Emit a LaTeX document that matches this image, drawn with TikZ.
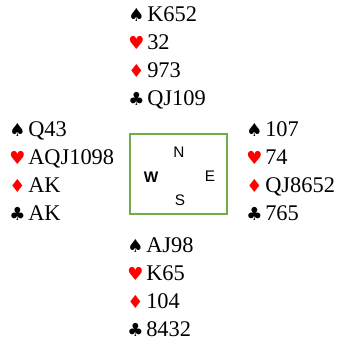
\documentclass[tikz,border=0pt]{standalone}
\usepackage{fontspec}
\setmainfont{Liberation Serif}
\newfontfamily\suitfont{DejaVu Sans}
\newfontfamily\dirfont{Liberation Sans}
\usetikzlibrary{positioning}
\definecolor{suitred}{HTML}{FF0000}
\definecolor{tableline}{HTML}{70AD47}
\newcommand{\suit}[2]{\makebox[14.25pt][l]{\color{#1}\suitfont\fontsize{13.5}{13.5}\selectfont#2}}
\newcommand{\Sp}{\suit{black}{♠}}
\newcommand{\Hs}{\suit{suitred}{♥}}
\newcommand{\Ds}{\suit{suitred}{♦}}
\newcommand{\Cs}{\suit{black}{♣}}
\tikzset{
  hand/.style={align=left, inner sep=0pt, anchor=base west,
               font=\fontsize{16.8}{21}\selectfont},
  dir/.style={font=\dirfont\fontsize{11.5}{13}\selectfont, inner sep=0pt},
  tablebox/.style={draw=tableline, line width=1.5pt, minimum width=72.75pt,
                   minimum height=60pt, inner sep=0pt}
}
\begin{document}
\begin{tikzpicture}[x=0.75pt,y=-0.75pt]
  \useasboundingbox (0,0) rectangle (351,346);
  \node[tablebox] (tbl) at (178.5,174) {};
  \node[dir] (n) at (179,152) {N};
  \node[dir, font=\dirfont\bfseries\fontsize{11.5}{13}\selectfont] (w) at (151,177) {W};
  \node[dir] (e) at (210,176) {E};
  \node[dir] (s) at (180,200) {S};
  % hands (anchored at the baseline of the last line)
  \node[hand] (north) at (128,106) {\Sp K652\\\Hs 32\\\Ds 973\\\Cs QJ109};
  \node[hand] (west) at (9,221) {\Sp Q43\\\Hs AQJ1098\\\Ds AK\\\Cs AK};
  \node[hand] (east) at (246,221) {\Sp 107\\\Hs 74\\\Ds QJ8652\\\Cs 765};
  \node[hand] (south) at (127,337) {\Sp AJ98\\\Hs K65\\\Ds 104\\\Cs 8432};
\end{tikzpicture}
\end{document}
